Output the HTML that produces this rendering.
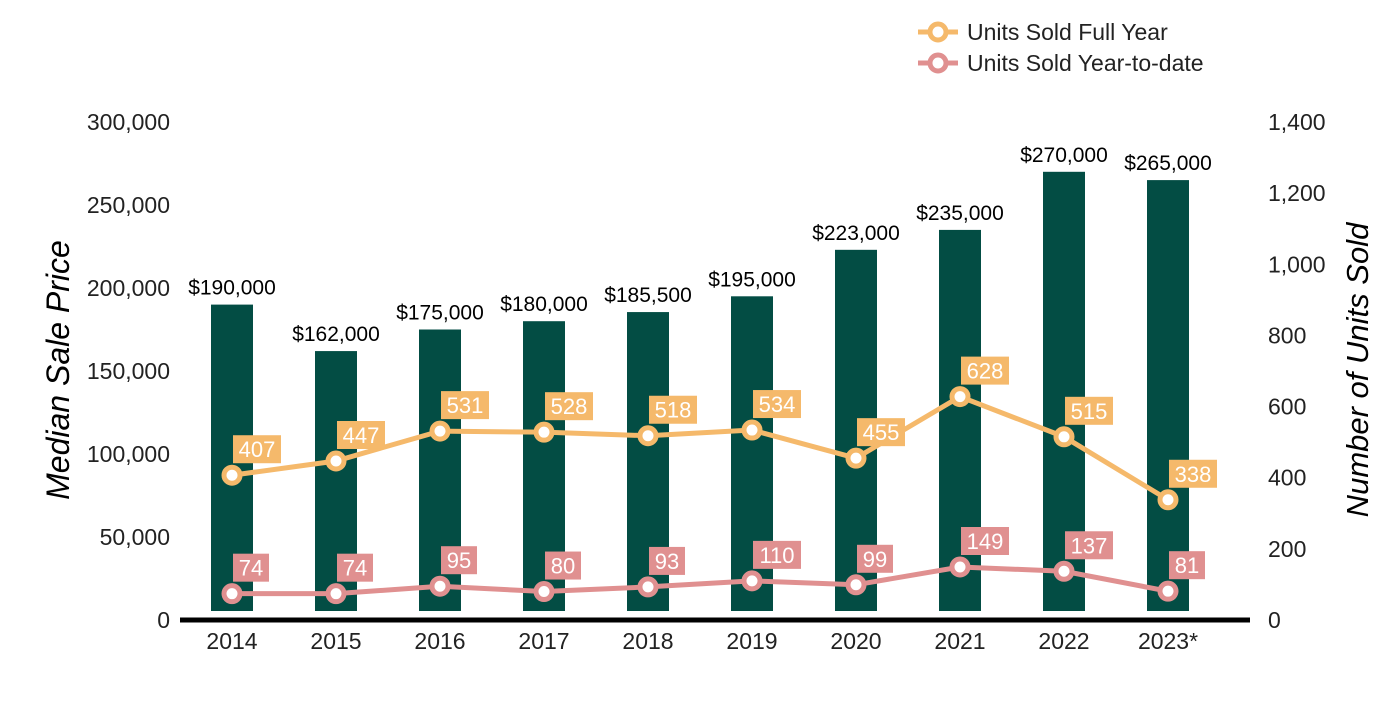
<!DOCTYPE html>
<html><head><meta charset="utf-8"><style>
body{margin:0;background:#fff;width:1400px;height:700px;overflow:hidden}
svg{font-family:"Liberation Sans",Arial,sans-serif}
</style></head><body>
<svg id="chart" width="1400" height="700" xmlns="http://www.w3.org/2000/svg">
<g id="legend">
<g>
<line x1="918" y1="32" x2="958" y2="32" stroke="#f5b96b" stroke-width="5"/>
<circle cx="938" cy="32" r="8" fill="#fff" stroke="#f5b96b" stroke-width="5"/>
<text x="967" y="40" font-size="23" fill="#222">Units Sold Full Year</text></g>
<g>
<line x1="918" y1="63" x2="958" y2="63" stroke="#e09090" stroke-width="5"/>
<circle cx="938" cy="63" r="8" fill="#fff" stroke="#e09090" stroke-width="5"/>
<text x="967" y="71" font-size="23" fill="#222">Units Sold Year-to-date</text></g>
</g>
<text transform="translate(69,370) rotate(-90)" text-anchor="middle" font-size="32" font-style="italic" fill="#000">Median Sale Price</text>
<text transform="translate(1368,370) rotate(-90)" text-anchor="middle" font-size="31" font-style="italic" fill="#000">Number of Units Sold</text>
<g id="plot"></g>
</svg>
<script>
const years=["2014","2015","2016","2017","2018","2019","2020","2021","2022","2023*"];
const prices=[190000,162000,175000,180000,185500,195000,223000,235000,270000,265000];
const fullYear=[407,447,531,528,518,534,455,628,515,338];
const ytd=[74,74,95,80,93,110,99,149,137,81];
const leftTicks=[0,50000,100000,150000,200000,250000,300000];
const rightTicks=[0,200,400,600,800,1000,1200,1400];
const NS="http://www.w3.org/2000/svg";
const g=document.getElementById('plot');
const y0=620,yTop=122;
const yL=v=>y0-(v/300000)*(y0-yTop);
const yR=v=>y0-(v/1400)*(y0-yTop);
const xC=i=>232+i*104;
function mk(t,a,p){const e=document.createElementNS(NS,t);for(const k in a)e.setAttribute(k,a[k]);(p||g).appendChild(e);return e;}
const fmt=n=>n.toLocaleString('en-US');
leftTicks.forEach(v=>{const t=mk('text',{x:170,y:yL(v)+8,'text-anchor':'end','font-size':23,fill:'#222'});


t.textContent=fmt(v);});
rightTicks.forEach(v=>{const t=mk('text',{x:1268,y:yR(v)+8,'font-size':23,fill:'#222'});


t.textContent=fmt(v);});
prices.forEach((v,i)=>{const r=mk('rect',{x:xC(i)-21,y:yL(v),width:42,height:611-yL(v),fill:'#034d44'});


const t=mk('text',{x:xC(i),y:yL(v)-10,'text-anchor':'middle','font-size':21,fill:'#000'});


t.textContent='$'+fmt(v);});
const ax=mk('line',{x1:180,x2:1250,y1:620,y2:620,stroke:'#000','stroke-width':5});


years.forEach((y,i)=>{const t=mk('text',{x:xC(i),y:649,'text-anchor':'middle','font-size':23,fill:'#222'});


t.textContent=y;});
function series(arr,col,name){
const p=mk('polyline',{points:arr.map((v,i)=>xC(i)+','+yR(v)).join(' '),fill:'none',stroke:col,'stroke-width':5});


arr.forEach((v,i)=>{const c=mk('circle',{cx:xC(i),cy:yR(v),r:8,fill:'#fff',stroke:col,'stroke-width':5});


const s=String(v);const w=s.length*12+12;
const b=mk('rect',{x:xC(i)+1,y:yR(v)-40,width:w,height:28,fill:col});


const t=mk('text',{x:xC(i)+1+w/2,y:yR(v)-18,'text-anchor':'middle','font-size':22,fill:'#fff'});


t.textContent=s;});}
series(fullYear,'#f5b96b','full-year');
series(ytd,'#e09090','ytd');
</script>
</body></html>
